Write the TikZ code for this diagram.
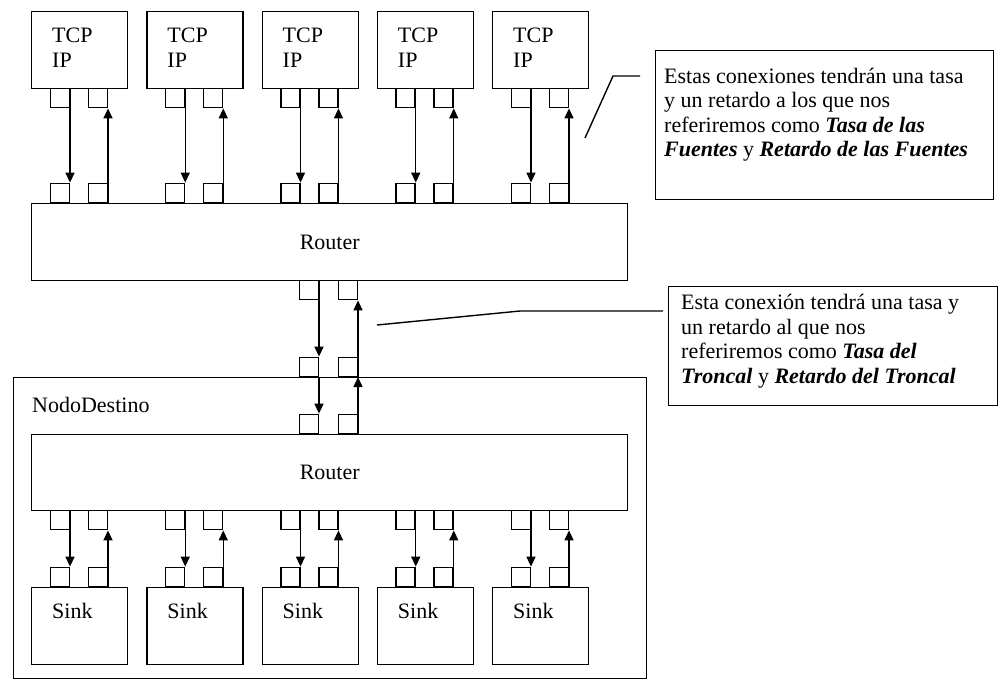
\documentclass[tikz,border=0pt]{standalone}
\usepackage{fontspec}
\setmainfont{Liberation Serif}
\usetikzlibrary{arrows.meta}

\tikzset{
  box/.style={draw, line width=1.4pt, inner sep=0pt, anchor=north west},
  port/.style={draw, line width=1.4pt, minimum width=19pt, minimum height=19pt, inner sep=0pt},
  flow/.style={line width=1.4pt, -{Triangle[length=10pt,width=9pt]}},
  lbl/.style={inner sep=0pt, font=\fontsize{22}{25}\selectfont},
  note/.style={inner sep=0pt, align=left, font=\fontsize{22}{24.5}\selectfont},
}
\newcommand{\bfit}[1]{\textbf{\textit{#1}}}

\begin{document}
\begin{tikzpicture}[x=1pt,y=-1pt]
  \useasboundingbox (0,0) rectangle (1000,680);

  % Sources and upper router
  \node[box, minimum width=596pt, minimum height=77pt, font=\fontsize{22}{25}\selectfont]
    (router) at (31,203) {Router};
  \foreach \i in {0,...,4} {
    \pgfmathsetmacro{\xl}{31+115.25*\i}
    \pgfmathsetmacro{\xd}{\xl+39}
    \pgfmathsetmacro{\xu}{\xl+77}
    \node[box, minimum width=96pt, minimum height=77pt] (src\i) at (\xl,11) {};
    \node[lbl, anchor=base west] (tcp\i) at ([shift={(21,31)}]src\i.north west) {TCP};
    \node[lbl, anchor=base west] (ip\i) at ([shift={(21,56)}]src\i.north west) {IP};
    \node[port, anchor=north east] (sdn\i) at (\xd,88) {};
    \node[port, anchor=north east] (sup\i) at (\xu,88) {};
    \node[port, anchor=south east] (ddn\i) at (\xd,203) {};
    \node[port, anchor=south east] (dup\i) at (\xu,203) {};
    \draw[flow] (sdn\i.north east) -- (ddn\i.north east);
    \draw[flow] (dup\i.south east) -- (sup\i.south east);
  }

  % Destination node
  \node[box, minimum width=633pt, minimum height=301pt] (dest) at (13,377) {};
  \node[lbl, anchor=base west] (destlbl) at ([shift={(19,35)}]dest.north west) {NodoDestino};
  \node[box, minimum width=596pt, minimum height=76pt, font=\fontsize{22}{25}\selectfont]
    (drouter) at (31,434) {Router};

  % Trunk
  \node[port, anchor=north east] (tdn) at (319,280) {};
  \node[port, anchor=north east] (tup) at (358,280) {};
  \node[port, anchor=south east] (ndn1) at (319,377) {};
  \node[port, anchor=south east] (nup1) at (358,377) {};
  \node[port, anchor=south east] (ndn2) at (319,434) {};
  \node[port, anchor=south east] (nup2) at (358,434) {};
  \draw[flow] (tdn.north east) -- (ndn1.north east);
  \draw[flow] (nup1.south east) -- (tup.south east);
  \draw[flow] (ndn1.south east) -- (ndn2.north east);
  \draw[flow] (nup2.south east) -- (nup2.south east |- dest.north);

  % Sinks
  \foreach \i in {0,...,4} {
    \pgfmathsetmacro{\xl}{31+115.25*\i}
    \pgfmathsetmacro{\xd}{\xl+39}
    \pgfmathsetmacro{\xu}{\xl+77}
    \node[box, minimum width=96pt, minimum height=77pt] (snk\i) at (\xl,587) {};
    \node[lbl, anchor=base west] (sinklbl\i) at ([shift={(21,31)}]snk\i.north west) {Sink};
    \node[port, anchor=north east] (rdn\i) at (\xd,510) {};
    \node[port, anchor=north east] (rup\i) at (\xu,510) {};
    \node[port, anchor=south east] (kdn\i) at (\xd,587) {};
    \node[port, anchor=south east] (kup\i) at (\xu,587) {};
    \draw[flow] (rdn\i.north east) -- (kdn\i.north east);
    \draw[flow] (kup\i.south east) -- (rup\i.south east);
  }

  % Notes
  \node[box, minimum width=338pt, minimum height=149pt] (fuentes) at (655,50) {};
  \node[note, anchor=north west] (fuentestxt) at (664,68)
    {Estas conexiones tendrán una tasa\\
     y un retardo a los que nos\\
     referiremos como \bfit{Tasa de las}\\
     \bfit{Fuentes} y \bfit{Retardo de las Fuentes}};
  \coordinate (c1a) at (640,76);
  \coordinate (c1b) at (613,76);
  \coordinate (c1c) at (585,138);
  \draw[line width=1.4pt] (c1a) -- (c1b) -- (c1c);

  \node[box, minimum width=329pt, minimum height=119pt] (troncal) at (668,286) {};
  \node[note, anchor=north west] (troncaltxt) at (681,294)
    {Esta conexión tendrá una tasa y\\
     un retardo al que nos\\
     referiremos como \bfit{Tasa del}\\
     \bfit{Troncal} y \bfit{Retardo del Troncal}};
  \coordinate (c2a) at (663,311);
  \coordinate (c2b) at (520,311);
  \coordinate (c2c) at (377,325);
  \draw[line width=1.4pt] (c2a) -- (c2b) -- (c2c);
\end{tikzpicture}
\end{document}
